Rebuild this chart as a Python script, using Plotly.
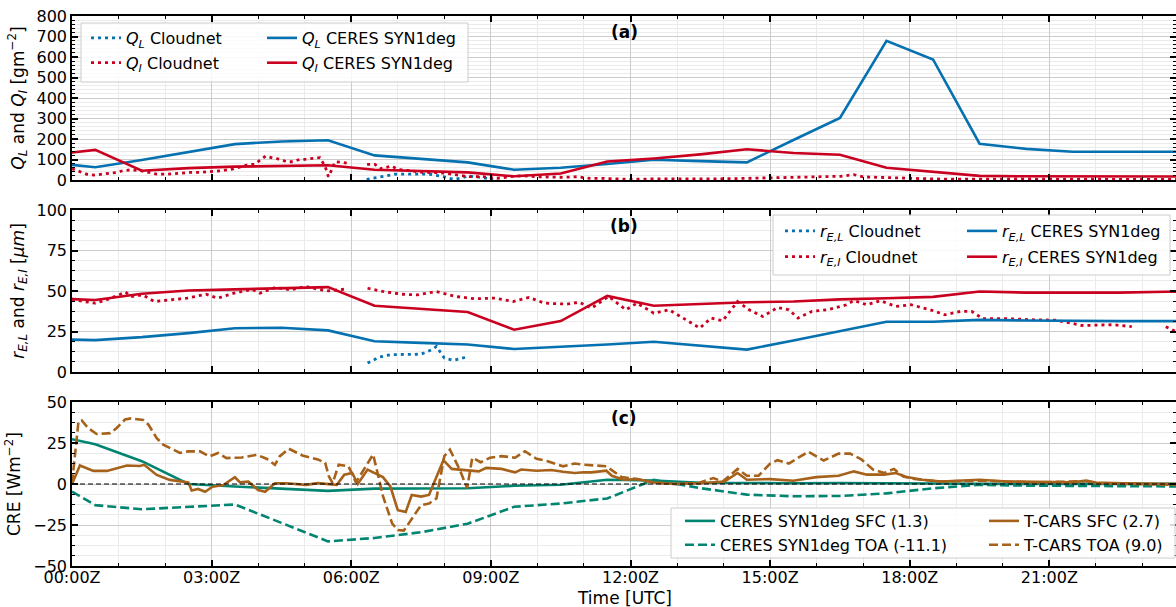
import plotly.graph_objects as go

# ---------------- data ----------------
tick_hours = [0, 3, 6, 9, 12, 15, 18, 21]
tick_labels = ["00:00Z", "03:00Z", "06:00Z", "09:00Z", "12:00Z", "15:00Z", "18:00Z", "21:00Z"]

ceres_t = [0.0, 0.5, 1.5, 2.5, 3.5, 4.5, 5.5, 6.5, 7.5, 8.5, 9.5, 10.5, 11.5, 12.5,
           13.5, 14.5, 15.5, 16.5, 17.5, 18.5, 19.5, 20.5, 21.5, 22.5, 23.5, 24.0]
ql_ceres = [74, 62, 98, 137, 175, 188, 194, 120, 103, 86, 50, 60, 78, 99, 92, 86,
            195, 303, 679, 588, 177, 152, 138, 138, 138, 138]
qi_ceres = [134, 147, 45, 58, 65, 68, 72, 50, 43, 37, 18, 32, 90, 105, 125, 150,
            132, 123, 60, 40, 20, 18, 17, 17, 17, 17]
rel_ceres = [20, 19.7, 21.5, 24, 27, 27.3, 25.7, 19, 18, 17, 14.2, 15.5, 17, 18.7,
             16.2, 13.8, 19.5, 25.2, 31, 31, 32.2, 31.8, 31.4, 31.4, 31.4, 31.4]
rei_ceres = [45, 44.4, 48.3, 50.3, 51, 51.7, 52.4, 40.9, 39, 37, 26.1, 31.4, 47, 40.9,
             42, 43.1, 43.5, 44.8, 45.5, 46.4, 49.7, 49, 49, 49, 49.5, 49.7]
cre_sfc_ceres = [27.3, 24.2, 13.9, 0, -1.5, -3, -4.2, -2.8, -2.7, -2.6, -1.1, -0.5, 2.6,
                 2.1, 0.8, 0.5, 0.5, 0.6, 0.6, 0.3, 0.1, 0, 0, 0, 0.1, 0.1]
cre_toa_ceres = [-4.6, -12.9, -15.4, -13.9, -12.5, -23.7, -35, -32.9, -29.4, -24.2, -13.9,
                 -11.9, -8.8, 2.5, -2.5, -6.5, -7.5, -7.3, -5.7, -2.6, -0.5, -1, -1.1,
                 -1.3, -1.5, -1.5]

ql_cloud_t = [6.33, 6.5, 6.69, 6.94, 7.19, 7.48, 7.69, 7.98, 8.19, 8.4, 8.5, 8.77, 9.05]
ql_cloud = [3, 10, 16, 28, 29, 29, 28, 16, 3, 11, 20, 13, 3]

qi_cloud_t = [0.0, 0.17, 0.32, 0.49, 0.67, 0.82, 0.96, 1.1, 1.25, 1.46, 1.64, 1.82, 2.03,
              2.28, 2.54, 2.75, 3.0, 3.18, 3.47, 3.75, 3.93, 4.04, 4.16, 4.33, 4.47, 4.61,
              4.75, 4.9, 5.04, 5.18, 5.33, 5.44, 5.51, 5.58, 5.65, 5.8, 5.92, 6.1, 6.34,
              6.51, 6.62, 6.76, 6.87, 7.0, 7.26, 7.55, 7.91, 8.27, 8.55, 8.84, 9.13, 9.41,
              9.7, 9.99, 10.27, 10.56, 10.85, 11.13, 11.42, 11.71, 12.0, 12.42, 12.78, 13.2,
              13.6, 14.0, 14.5, 15.0, 15.5, 16.0, 16.5, 16.8, 17.0, 17.5, 18.0, 18.5, 19.0,
              19.5, 20.0, 20.5, 21.0, 21.5, 22.0, 22.5, 23.0, 23.5, 23.72]
qi_cloud = [55, 41, 28, 24, 28, 33, 37, 46, 49, 46, 37, 29, 28, 33, 37, 37, 41, 44, 54, 72,
            78, 98, 117, 106, 101, 89, 89, 101, 101, 106, 109, 65, 16, 49, 89, 86, 81, None,
            76, 76, 55, 62, 68, 52, 46, 37, 36, 24, 16, 16, 8, 16, 21, 16, 13, 13, 16, 8, 8,
            5, 3, 5, 5, 4, 4, 6, 8, 10, 12, 14, 18, 26, 15, 12, 8, 5, 4, 5, 6, 5, 4, 4, 4,
            3, 3, 3, 3]

rel_cloud_t = [6.35, 6.6, 6.84, 7.17, 7.5, 7.75, 7.83, 8.0, 8.2, 8.45]
rel_cloud = [5.5, 9.2, 10.7, 10.7, 11, 14, 15.8, 8.6, 7.2, 9.0]

rei_cloud_t = [0.0, 0.25, 0.5, 0.75, 1.15, 1.27, 1.52, 1.77, 2.14, 2.47, 2.88, 3.13, 3.46,
               3.87, 4.04, 4.37, 4.7, 5.03, 5.28, 5.52, 5.85, 6.1, 6.35, 6.68, 7.09, 7.42,
               7.83, 8.25, 8.66, 9.07, 9.48, 9.82, 10.15, 10.63, 10.9, 11.16, 11.53, 11.9,
               12.14, 12.5, 12.83, 13.2, 13.49, 13.73, 13.98, 14.3, 14.55, 14.84, 15.16,
               15.4, 15.6, 15.9, 16.23, 16.64, 16.8, 17.08, 17.37, 17.7, 18.03, 18.44, 18.76,
               19.09, 19.33, 19.57, 20.07, 20.72, 21.13, 21.46, 21.7, 22.36, 22.77, 23.1,
               23.5, 23.72]
rei_cloud = [45, 43.5, 42.5, 44.6, 49.3, 46.6, 47.6, 43.5, 44.6, 45.6, 48, 45.6, 48.5, 51,
             48.7, 52.2, 50.7, 52.8, 51.1, 50.1, 51.1, None, 51.7, 49.7, 48, 47.6, 49.7,
             46.6, 45.2, 45.6, 43.5, 46, 42.5, 41.9, 43.1, 39.4, 46.6, 38.4, 42.5, 36.3,
             38.4, 32.2, 27.1, 33.3, 31.6, 43.5, 38.4, 34.3, 39.8, 38.4, 33.3, 37.4, 38.4,
             41.5, 44.1, 41.5, 44, 40.5, 41.5, 38.4, 35.3, 37.4, 37.4, 32.9, 32.9, 32.2, 32,
             30.2, 28.7, 29.2, 28, None, 28, 25]

tcars_sfc_t = [0.0, 0.17, 0.46, 0.75, 1.18, 1.46, 1.55, 1.82, 2.1, 2.5, 2.57, 2.71, 2.86,
               3.02, 3.25, 3.5, 3.61, 3.79, 4.0, 4.15, 4.36, 4.6, 5.03, 5.28, 5.69, 5.85,
               6.02, 6.14, 6.35, 6.55, 6.68, 6.84, 7.0, 7.17, 7.3, 7.5, 7.67, 7.83, 7.98,
               8.16, 8.49, 8.74, 8.9, 9.23, 9.52, 9.65, 9.98, 10.3, 10.55, 10.8, 11.0, 11.16,
               11.48, 11.6, 11.85, 12.14, 12.5, 12.96, 13.5, 14.02, 14.3, 14.5, 15.0, 15.5,
               15.99, 16.47, 16.8, 17.08, 17.45, 17.7, 17.94, 18.27, 18.68, 19.1, 19.5,
               20.1, 20.8, 21.5, 21.79, 22.0, 22.6, 23.3, 23.72]
tcars_sfc = [0, 11.3, 8, 8, 11.3, 11, 11.7, 5.5, 2.5, 1, -4, -3, -4.7, -1.6, -0.6, 4.1, 1,
             1.4, -3.7, -4.7, 0.4, 0.5, -0.5, 0.5, -0.5, 5.7, 6.7, 0, 8.8, 5.7, 4.2, -1.5,
             -16, -17, -6.7, -7.7, -6.7, 4.2, 14.5, 9.2, 8.3, 7.7, 9.8, 9.2, 7.1, 8.8, 8.1,
             8.5, 7.5, 6.7, 7.2, 7.1, 8.1, 5, 2.6, 3, 0.9, 0, 0.5, 1.5, 6.7, 2.6, 3, 2, 4.2,
             5, 7.7, 5.7, 5.7, 6.7, 4.2, 2.6, 1.5, 2, 2.6, 1.5, 1.1, 1, 2.1, 0.9, 0.5, 0.2,
             -0.1]

tcars_toa_t = [0.0, 0.14, 0.21, 0.35, 0.53, 0.82, 0.96, 1.14, 1.27, 1.53, 1.64, 1.82, 1.96,
               2.32, 2.5, 2.75, 2.95, 3.14, 3.32, 3.65, 3.97, 4.18, 4.36, 4.46, 4.66, 4.95,
               5.28, 5.44, 5.52, 5.6, 5.73, 5.94, 6.1, 6.47, 6.6, 6.68, 6.88, 7.0, 7.13, 7.34,
               7.5, 7.67, 7.83, 8.0, 8.12, 8.33, 8.49, 8.6, 8.78, 8.98, 9.23, 9.52, 9.73,
               9.98, 10.22, 10.55, 10.8, 11.0, 11.28, 11.48, 11.81, 12.14, 12.5, 12.96, 13.45,
               13.78, 13.98, 14.3, 14.5, 14.75, 15.0, 15.16, 15.4, 15.82, 16.15, 16.47,
               16.72, 16.96, 17.21, 17.45, 17.66, 17.86, 18.1, 18.68, 19.5, 20.7, 21.79,
               22.0, 22.8, 23.72]
tcars_toa = [0.4, 38.3, 38.7, 34, 30.5, 31, 34.2, 39.3, 40, 39, 36.3, 28, 24, 18.9, 19.9,
             19.9, 16.8, 18.9, 15.8, 16.2, 17.8, 15.4, 11.7, 16.8, 21.5, 17.4, 15, 12.9, 4.6,
             0.5, 11.8, 10.8, 1, 18, 2.6, -7.3, -24.2, -28, -28.4, -20, -12.9, -11.9, -8.8,
             17, 21, 8.8, -2.6, 16, 13.3, 16, 17, 16, 20, 15.4, 13.9, 10.8, 12.5, 11.8, 11.2,
             10.8, 4.2, 3, 0.9, 0, 0.5, 3.6, 1.5, 9.2, 5, 5, 12.5, 14.5, 12.5, 19.7, 14.3,
             18.5, 18.5, 15, 8.8, 6.7, 9.2, 4.6, 3, 1.5, 2, 1, 1.7, 0.5, 0, -0.5]

# ---------------- style ----------------
BLUE = "#0571b0"
RED = "#ca0020"
TEAL = "#018571"
BROWN = "#a6611a"
FONT = "DejaVu Sans"
DOT = "3px,4px"
DASH = "9px,4px"

W, H = 1176, 607
ML, MR, MT, MB = 72, 0, 16, 41
PW, PH = W - ML - MR, H - MT - MB


def px_x(p):
    return (p - ML) / PW


def px_y(p):
    return 1 - (p - MT) / PH


fig = go.Figure()


def add(x, y, name, color, dash, axis, legend, group):
    fig.add_trace(go.Scatter(
        x=x, y=y, name=name, mode="lines", connectgaps=False,
        line=dict(color=color, width=2.6 if dash != DOT else 2.8, dash=dash),
        xaxis="x" + axis, yaxis="y" + axis, legend=legend, legendgroup=group,
        hoverinfo="skip"))


QL = "<i>Q</i><sub><i>L</i></sub>"
QI = "<i>Q</i><sub><i>I</i></sub>"
REL = "<i>r</i><sub><i>E,L</i></sub>"
REI = "<i>r</i><sub><i>E,I</i></sub>"

# panel a
add(ql_cloud_t, ql_cloud, QL + " Cloudnet", BLUE, DOT, "", "legend", "a1")
add(qi_cloud_t, qi_cloud, QI + " Cloudnet", RED, DOT, "", "legend", "a2")
add(ceres_t, ql_ceres, QL + " CERES SYN1deg", BLUE, "solid", "", "legend2", "a3")
add(ceres_t, qi_ceres, QI + " CERES SYN1deg", RED, "solid", "", "legend2", "a4")
# panel b
add(rel_cloud_t, rel_cloud, REL + " Cloudnet", BLUE, DOT, "2", "legend3", "b1")
add(rei_cloud_t, rei_cloud, REI + " Cloudnet", RED, DOT, "2", "legend3", "b2")
add(ceres_t, rel_ceres, REL + " CERES SYN1deg", BLUE, "solid", "2", "legend4", "b3")
add(ceres_t, rei_ceres, REI + " CERES SYN1deg", RED, "solid", "2", "legend4", "b4")
# panel c
add(ceres_t, cre_sfc_ceres, "CERES SYN1deg SFC (1.3)", TEAL, "solid", "3", "legend5", "c1")
add(ceres_t, cre_toa_ceres, "CERES SYN1deg TOA (-11.1)", TEAL, DASH, "3", "legend5", "c2")
add(tcars_sfc_t, tcars_sfc, "T-CARS SFC (2.7)", BROWN, "solid", "3", "legend6", "c3")
add(tcars_toa_t, tcars_toa, "T-CARS TOA (9.0)", BROWN, DASH, "3", "legend6", "c4")

GRID = "#cccccc"
MINOR_GRID = "#ebebeb"

domains = {
    "": [px_y(180), 1.0],
    "2": [px_y(372), px_y(210)],
    "3": [0.0, px_y(402)],
}


def xaxis(show_labels, anchor):
    return dict(
        range=[0, 23.72], domain=[0, 1], anchor=anchor,
        tickmode="array", tickvals=tick_hours, ticktext=tick_labels,
        showticklabels=show_labels, ticks="inside", ticklen=6, tickwidth=1.5,
        tickcolor="black", showline=True, linecolor="black", linewidth=1.5,
        mirror="allticks", showgrid=True, gridcolor=GRID, gridwidth=1,
        zeroline=False, automargin=False, ticklabelstandoff=-4,
        tickfont=dict(family=FONT, size=16, color="black"),
        minor=dict(tickmode="linear", tick0=0, dtick=1, ticks="inside", ticklen=3,
                   tickwidth=1.2, tickcolor="black", showgrid=True,
                   gridcolor=MINOR_GRID, gridwidth=1),
    )


def yaxis(dom, rng, dtick, minor, title, anchor):
    return dict(
        domain=dom, range=rng, anchor=anchor, tickmode="linear", tick0=rng[0],
        dtick=dtick, ticks="inside", ticklen=6, tickwidth=1.5, tickcolor="black",
        showline=True, linecolor="black", linewidth=1.5, mirror="allticks",
        showgrid=True, gridcolor=GRID, gridwidth=1, zeroline=False,
        automargin=False,
        tickfont=dict(family=FONT, size=16, color="black"),
        title=dict(text=title, font=dict(family=FONT, size=17, color="black"),
                   standoff=8),
        minor=dict(tickmode="linear", tick0=rng[0], dtick=minor, ticks="inside",
                   ticklen=3, tickwidth=1.2, tickcolor="black", showgrid=True,
                   gridcolor=MINOR_GRID, gridwidth=1),
    )


legend_common = dict(
    bgcolor="rgba(0,0,0,0)", borderwidth=0, xanchor="left", yanchor="top",
    font=dict(family=FONT, size=16, color="black"), traceorder="grouped",
    itemwidth=30, itemclick=False,
)

frames = [
    (81, 468, 23, 82),
    (773, 1170, 215, 275),
    (671, 1175, 508, 558),
]
shapes = []
for x0, x1, y0, y1 in frames:
    shapes.append(dict(type="rect", xref="paper", yref="paper",
                       x0=px_x(x0), x1=px_x(x1), y0=px_y(y1), y1=px_y(y0),
                       line=dict(color="#cccccc", width=1),
                       fillcolor="rgba(255,255,255,0.85)", layer="above"))

fig.update_layout(
    width=W, height=H, margin=dict(l=ML, r=MR, t=MT, b=MB),
    paper_bgcolor="white", plot_bgcolor="white",
    font=dict(family=FONT, size=16, color="black"),
    showlegend=True,
    xaxis=xaxis(False, "y"),
    xaxis2=xaxis(False, "y2"),
    xaxis3=xaxis(True, "y3"),
    yaxis=yaxis(domains[""], [0, 800], 100, 20,
                QL + " and " + QI + " [gm<sup>−2</sup>]", "x"),
    yaxis2=yaxis(domains["2"], [0, 100], 25, 6.25,
                 REL + " and " + REI + " [<i>μm</i>]", "x2"),
    yaxis3=yaxis(domains["3"], [-50, 50], 25, 6.25, "CRE [Wm<sup>−2</sup>]", "x3"),
    legend=dict(legend_common, x=px_x(86), y=px_y(21), tracegroupgap=1),
    legend2=dict(legend_common, x=px_x(262), y=px_y(21), tracegroupgap=1),
    legend3=dict(legend_common, x=px_x(780), y=px_y(214), tracegroupgap=2),
    legend4=dict(legend_common, x=px_x(962), y=px_y(214), tracegroupgap=2),
    legend5=dict(legend_common, x=px_x(680), y=px_y(504), tracegroupgap=0),
    legend6=dict(legend_common, x=px_x(984), y=px_y(504), tracegroupgap=0),
    shapes=shapes,
)

fig.add_shape(type="line", xref="x3 domain", yref="y3", x0=0, x1=1, y0=0, y1=0,
              line=dict(color="black", width=1.2, dash="5px,3px"), layer="above")

for ax, lab in [("", "(a)"), ("2", "(b)"), ("3", "(c)")]:
    fig.add_annotation(text="<b>" + lab + "</b>", xref="x" + ax + " domain",
                       yref="y" + ax + " domain", x=0.5, y=0.9, showarrow=False,
                       xanchor="center", yanchor="middle",
                       font=dict(family=FONT, size=17, color="black"))

fig.add_annotation(text="Time [UTC]", xref="paper", yref="paper", x=0.5,
                   y=px_y(598), showarrow=False, xanchor="center", yanchor="middle",
                   font=dict(family=FONT, size=17, color="black"))

fig.write_html(
    "out.html",
    config={"displayModeBar": False},
    post_script="document.body.style.margin='0px';"
                "document.body.style.overflow='hidden';",
)
